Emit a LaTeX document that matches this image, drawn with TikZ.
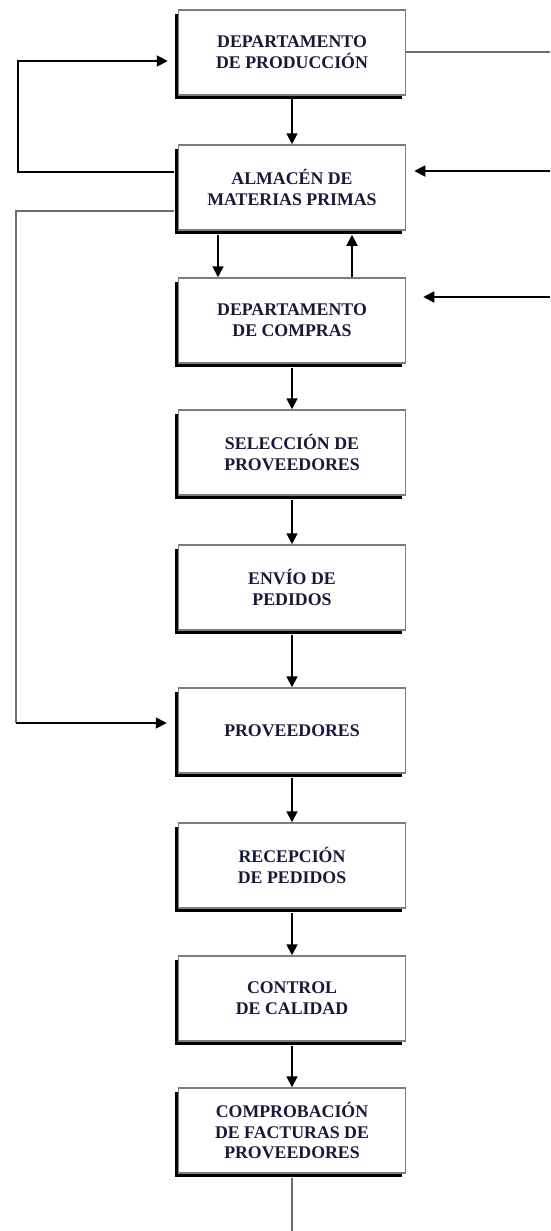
\documentclass[tikz,border=0pt]{standalone}
\usepackage{fontspec}
\setmainfont{Liberation Serif}
\usetikzlibrary{arrows.meta,shadows,positioning}
\definecolor{boxline}{RGB}{125,125,125}
\definecolor{textnavy}{RGB}{24,24,58}
\definecolor{greyline}{RGB}{110,110,110}
\tikzset{
  stepbox/.style={draw=boxline, line width=1.5pt, fill=white,
    minimum width=227pt, minimum height=85pt, inner sep=0pt,
    align=center, text=textnavy,
    font=\bfseries\fontsize{17.8}{20.8}\selectfont,
    general shadow={fill=black, shadow xshift=-4pt, shadow yshift=-4pt}},
  arr/.style={draw=black, line width=1.8pt,
    -{Triangle[length=11pt,width=11pt]}},
  greyconn/.style={draw=greyline, line width=2pt},
}
\begin{document}
\begin{tikzpicture}[x=1pt,y=-1pt]
\useasboundingbox (0,0) rectangle (550,1231);

% main column of steps
\node[stepbox] (prod) at (292,52.5)   {DEPARTAMENTO\\DE PRODUCCIÓN};
\node[stepbox] (alm)  at (292,187.5)  {ALMACÉN DE\\MATERIAS PRIMAS};
\node[stepbox] (comp) at (292,320.5)  {DEPARTAMENTO\\DE COMPRAS};
\node[stepbox] (sel)  at (292,452.5)  {SELECCIÓN DE\\PROVEEDORES};
\node[stepbox] (env)  at (292,587.5)  {ENVÍO DE\\PEDIDOS};
\node[stepbox] (prov) at (292,730.5)  {PROVEEDORES};
\node[stepbox] (rec)  at (292,865.5)  {RECEPCIÓN\\DE PEDIDOS};
\node[stepbox] (ctrl) at (292,998.5)  {CONTROL\\DE CALIDAD};
\node[stepbox] (fact) at (292,1130.5) {COMPROBACIÓN\\DE FACTURAS DE\\PROVEEDORES};

% free ends at the page edges
\coordinate (rprod) at (550,52.5);
\coordinate (ralm)  at (550,171);
\coordinate (rcomp) at (550,297);
\coordinate (bottom) at (292,1231);

% vertical flow (lines leave from the bottom of the shadow)
\draw[arr] (prod.south) -- (alm.north);
\draw[arr] ([xshift=-74pt,yshift=-4pt]alm.south) -- ([xshift=-74pt]comp.north);
\draw[arr, shorten >=4pt] ([xshift=60pt]comp.north) -- ([xshift=60pt]alm.south);
\draw[arr] ([yshift=-4pt]comp.south) -- (sel.north);
\draw[arr] ([yshift=-4pt]sel.south) -- (env.north);
\draw[arr] ([yshift=-4pt]env.south) -- (prov.north);
\draw[arr] ([yshift=-4pt]prov.south) -- (rec.north);
\draw[arr] ([yshift=-4pt]rec.south) -- (ctrl.north);
\draw[arr] ([yshift=-4pt]ctrl.south) -- (fact.north);
\draw[greyconn] ([yshift=-4pt]fact.south) -- (bottom);

% right-hand connections
\draw[greyconn] (prod.east) -- (rprod);
\draw[arr, shorten >=8pt] (ralm) -- (ralm -| alm.east);
\draw[arr, shorten >=17pt] (rcomp) -- (rcomp -| comp.east);

% left-hand loops
\coordinate (la) at ([yshift=15.5pt]alm.west);
\coordinate (lb) at ([yshift=-8.5pt]prod.west);
\draw[arr, shorten >=10pt] ([xshift=-4pt]la) -- (18,0 |- la) -- (18,0 |- lb) -- (lb);

\coordinate (lc) at ([yshift=-23.5pt]alm.west);
\coordinate (ld) at ([yshift=7.5pt]prov.west);
\draw[greyconn] ([xshift=-4pt]lc) -- (16,0 |- lc) -- (16,0 |- ld);
\draw[arr, shorten >=11pt] (16,0 |- ld) -- (ld);
\end{tikzpicture}
\end{document}
